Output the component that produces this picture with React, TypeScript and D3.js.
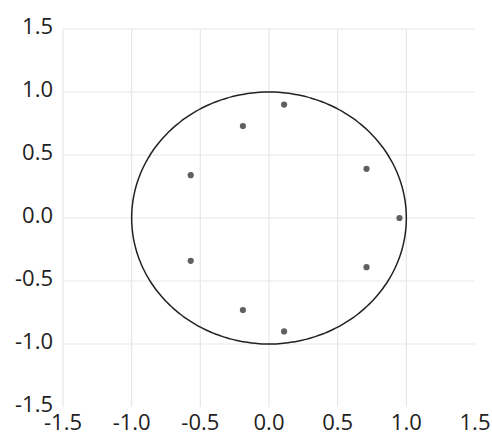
import React from "react"
import * as d3 from "d3"

const width = 492
const height = 436

const pointX = [0.11, -0.19, -0.57, -0.57, -0.19, 0.11, 0.71, 0.95, 0.71]
const pointY = [0.9, 0.73, 0.34, -0.34, -0.73, -0.9, 0.39, 0, -0.39]

const ticks = [-1.5, -1.0, -0.5, 0.0, 0.5, 1.0, 1.5]

const left = 63
const right = 475
const top = 29
const bottom = 407

const x = d3.scaleLinear().domain([-1.5, 1.5]).range([left, right])
const y = d3.scaleLinear().domain([-1.5, 1.5]).range([bottom, top])

// plain hyphen for the minus sign, like the original
const fmt = (v: number) => d3.format(".1f")(v).replace("\u2212", "-")
const font = "'Open Sans', 'DejaVu Sans', sans-serif"

const unitCircle = d3.range(0, 360, 2).map(a => [Math.cos(a * Math.PI / 180), Math.sin(a * Math.PI / 180)] as [number, number])
const circlePath = d3.line<[number, number]>().x(d => x(d[0])).y(d => y(d[1])).curve(d3.curveCardinalClosed)

const App = () => (
    <svg width={width} height={height} style={{ position: "absolute", left: 0, top: 0, background: "#fff" }}>
        {/* grid */}
        {ticks.filter(t => t < 1.5).map(t => (
            <line key={"v" + t} x1={x(t)} x2={x(t)} y1={top} y2={bottom} stroke="#e7e7e7" strokeWidth={1.2} />
        ))}
        {ticks.filter(t => t > -1.5).map(t => (
            <line key={"h" + t} x1={left} x2={right} y1={y(t)} y2={y(t)} stroke="#e7e7e7" strokeWidth={1.2} />
        ))}

        {/* y labels */}
        {ticks.map(t => (
            <text key={"yl" + t} x={53} y={y(t) + 4.5} textAnchor="end" fontFamily={font} fontSize={22} fill="#222">
                {fmt(t)}
            </text>
        ))}
        {/* x labels */}
        {ticks.map(t => (
            <text key={"xl" + t} x={x(t)} y={430} textAnchor="middle" fontFamily={font} fontSize={22} fill="#222">
                {fmt(t)}
            </text>
        ))}

        <path d={circlePath(unitCircle) || ""} fill="none" stroke="#222" strokeWidth={1.5} />

        {pointX.map((px, i) => (
            <circle key={i} cx={x(px)} cy={y(pointY[i])} r={3.1} fill="#606060" />
        ))}
    </svg>
)

export default App
